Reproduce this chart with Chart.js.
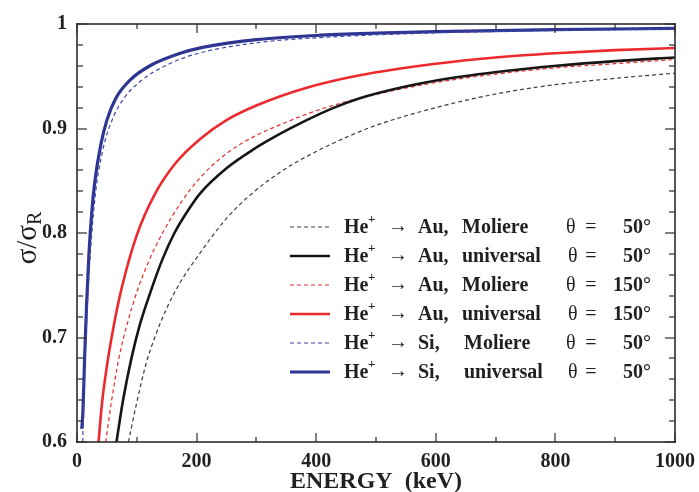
<!DOCTYPE html>
<html>
<head>
<meta charset="utf-8">
<title>Cross section ratio</title>
<script src="https://cdn.jsdelivr.net/npm/chart.js@4.4.0/dist/chart.umd.min.js"></script>
<style>
    html, body { margin: 0; padding: 0; background: #fff; }
    #wrap { width: 699px; height: 492px; }
</style>
</head>
<body>
<div id="wrap"><canvas id="ratio-chart" width="699" height="492"></canvas></div>
<script>
// energies (keV) and sigma/sigma_R for each curve
var auMol50E = [86, 100, 116, 130, 150, 174, 206, 250, 295, 350, 400, 456, 500, 600, 700, 800, 900, 1000];
var auMol50R = [0.600, 0.638, 0.676, 0.700, 0.728, 0.754, 0.781, 0.814, 0.839, 0.862, 0.878, 0.893, 0.903, 0.920, 0.933, 0.942, 0.948, 0.953];

var auUni50E = [66, 77, 91, 105, 125, 143, 163, 185, 206, 250, 295, 340, 384, 430, 473, 540, 601, 702, 802, 900, 1000];
var auUni50R = [0.600, 0.640, 0.680, 0.712, 0.747, 0.775, 0.800, 0.821, 0.838, 0.862, 0.880, 0.895, 0.908, 0.920, 0.929, 0.939, 0.946, 0.954, 0.960, 0.9645, 0.968];

var auMol150E = [48, 58, 70, 85, 101, 120, 144, 175, 206, 250, 295, 350, 400, 473, 600, 700, 800, 900, 1000];
var auMol150R = [0.600, 0.640, 0.680, 0.715, 0.745, 0.773, 0.801, 0.830, 0.853, 0.876, 0.892, 0.906, 0.917, 0.929, 0.944, 0.952, 0.958, 0.962, 0.966];

var auUni150E = [36, 42, 52, 62, 75, 100, 130, 165, 206, 250, 300, 384, 473, 600, 700, 800, 900, 1000];
var auUni150R = [0.600, 0.638, 0.680, 0.713, 0.748, 0.798, 0.837, 0.867, 0.890, 0.908, 0.922, 0.939, 0.951, 0.962, 0.968, 0.972, 0.975, 0.977];

var siMol50E = [9.5, 12, 15, 20, 30, 43, 60, 80, 110, 150, 200, 300, 400, 600, 800, 1000];
var siMol50R = [0.600, 0.650, 0.700, 0.760, 0.833, 0.879, 0.910, 0.930, 0.947, 0.9607, 0.9715, 0.982, 0.9868, 0.9915, 0.9938, 0.995];

var siUni50E = [8, 10, 13, 16, 20, 25, 30, 40, 50, 65, 90, 125, 170, 210, 300, 400, 500, 600, 800, 1000];
var siUni50R = [0.6125, 0.630, 0.685, 0.731, 0.780, 0.822, 0.850, 0.885, 0.908, 0.929, 0.947, 0.961, 0.9715, 0.9776, 0.985, 0.989, 0.9912, 0.9927, 0.9946, 0.9958];

// legend text
var legendTargets = ['Au,', 'Au,', 'Au,', 'Au,', 'Si,', 'Si,'];
var legendModels = ['Moliere', 'universal', 'Moliere', 'universal', 'Moliere', 'universal'];
var legendAngles = ['50°', '50°', '150°', '150°', '50°', '50°'];

// axis ticks
var xMajorTicks = [0, 200, 400, 600, 800, 1000];
var yMajorTicks = [0.6, 0.7, 0.8, 0.9, 1];

var SERIF = '"Liberation Serif", "DejaVu Serif", "Times New Roman", serif';
var INK = '#2e2e2e';

function toPoints(xs, ys) {
    return xs.map(function (x, i) { return { x: x, y: ys[i] }; });
}

function makeSet(label, xs, ys, color, width, dash) {
    return {
        label: label,
        data: toPoints(xs, ys),
        borderColor: color,
        backgroundColor: color,
        borderWidth: width,
        borderDash: dash,
        pointRadius: 0,
        fill: false,
        cubicInterpolationMode: 'monotone'
    };
}

var datasets = [
    makeSet('Au Moliere 50', auMol50E, auMol50R, '#3c3c3c', 1.2, [4, 3]),
    makeSet('Au universal 50', auUni50E, auUni50R, '#151515', 2.6, []),
    makeSet('Au Moliere 150', auMol150E, auMol150R, '#ec2a2e', 1.2, [4, 3]),
    makeSet('Au universal 150', auUni150E, auUni150R, '#ec2a2e', 2.6, []),
    makeSet('Si Moliere 50', siMol50E, siMol50R, '#3d47a6', 1.2, [4, 3]),
    makeSet('Si universal 50', siUni50E, siUni50R, '#2e3592', 3.2, [])
];

// frame, inward ticks on all sides, legend and axis titles
var decorations = {
    id: 'decorations',
    afterDraw: function (chart) {
        var c = chart.ctx;
        var a = chart.chartArea;
        var xs = chart.scales.x;
        var ys = chart.scales.y;
        var L = Math.round(a.left), T = Math.round(a.top);
        var R = Math.round(a.right), B = Math.round(a.bottom);

        c.save();
        c.fillStyle = INK;

        // ticks as thin filled bars
        for (var e = 0; e <= 1000; e += 100) {
            var px = Math.round(xs.getPixelForValue(e));
            var len = xMajorTicks.indexOf(e) >= 0 ? 9 : 5;
            c.fillRect(px - 0.6, B - len, 1.2, len);
            c.fillRect(px - 0.6, T, 1.2, len);
        }
        for (var i = 0; i <= 20; i++) {
            var py = Math.round(ys.getPixelForValue(0.6 + i * 0.02));
            var ylen = i % 5 === 0 ? 10 : 6;
            c.fillRect(L, py - 0.6, ylen, 1.2);
            c.fillRect(R - ylen, py - 0.6, ylen, 1.2);
        }

        // frame
        c.fillRect(L - 0.8, T - 0.8, R - L + 1.6, 1.6);
        c.fillRect(L - 0.8, B - 0.8, R - L + 1.6, 1.6);
        c.fillRect(L - 0.8, T - 0.8, 1.6, B - T + 1.6);
        c.fillRect(R - 0.8, T - 0.8, 1.6, B - T + 1.6);

        // legend rows
        c.fillStyle = '#231f20';
        c.textBaseline = 'middle';
        for (var r = 0; r < 6; r++) {
            var ds = chart.data.datasets[r];
            var y = 227 + r * 29;
            c.strokeStyle = ds.borderColor;
            c.lineWidth = ds.borderWidth;
            c.setLineDash(ds.borderDash);
            c.beginPath();
            c.moveTo(290, y);
            c.lineTo(330, y);
            c.stroke();
            c.setLineDash([]);

            c.textAlign = 'left';
            c.font = 'bold 20px ' + SERIF;
            c.fillText('He', 344, y + 1);
            c.font = 'bold 13px ' + SERIF;
            c.fillText('+', 368, y - 7);
            c.font = '20px ' + SERIF;
            c.fillText('\u2192', 388, y);
            c.font = 'bold 20px ' + SERIF;
            c.fillText(legendTargets[r], 418, y + 1);
            c.fillText(legendModels[r], legendTargets[r] === 'Si,' ? 464 : 462, y + 1);
            c.font = '20px ' + SERIF;
            c.fillText('\u03b8', legendModels[r] === 'universal' ? 568 : 566, y + 1);
            c.textAlign = 'center';
            c.fillText('=', 591, y + 1);
            c.textAlign = 'right';
            c.font = 'bold 20px ' + SERIF;
            c.fillText(legendAngles[r], 651, y + 1);
        }

        // x title
        c.textAlign = 'center';
        c.textBaseline = 'alphabetic';
        c.font = 'bold 24px ' + SERIF;
        c.fillText('ENERGY  (keV)', (a.left + a.right) / 2, 488);

        // y title sigma/sigma_R
        c.translate(28, 238);
        c.rotate(-Math.PI / 2);
        c.font = '29px ' + SERIF;
        var main = '\u03c3/\u03c3';
        var w1 = c.measureText(main).width;
        c.font = '20px ' + SERIF;
        var w2 = c.measureText('R').width;
        var x0 = -(w1 + w2) / 2;
        c.textAlign = 'left';
        c.font = '29px ' + SERIF;
        c.fillText(main, x0, 8);
        c.font = '20px ' + SERIF;
        c.fillText('R', x0 + w1, 13);
        c.restore();
    }
};

var canvas = document.getElementById('ratio-chart');
var chart = new Chart(canvas, {
    type: 'line',
    data: { datasets: datasets },
    options: {
        responsive: false,
        animation: false,
        devicePixelRatio: 1,
        layout: { padding: { left: 0, right: 24, top: 24, bottom: 0 } },
        plugins: {
            legend: { display: false },
            tooltip: { enabled: false }
        },
        scales: {
            x: {
                type: 'linear',
                min: 0,
                max: 1000,
                grid: { display: false, drawTicks: false },
                border: { display: false },
                afterFit: function (scale) {
                    scale.height = 50;
                    scale.paddingLeft = 0;
                    scale.paddingRight = 0;
                },
                ticks: {
                    stepSize: 200,
                    padding: 8,
                    color: '#231f20',
                    font: { family: SERIF, size: 20, weight: 'bold' },
                    callback: function (v) { return xMajorTicks.indexOf(v) >= 0 ? String(v) : ''; }
                }
            },
            y: {
                type: 'linear',
                min: 0.6,
                max: 1,
                grid: { display: false, drawTicks: false },
                border: { display: false },
                afterFit: function (scale) {
                    scale.width = 77;
                    scale.paddingTop = 0;
                    scale.paddingBottom = 0;
                },
                afterBuildTicks: function (scale) {
                    scale.ticks = yMajorTicks.map(function (v) { return { value: v }; });
                },
                ticks: {
                    padding: 10,
                    color: '#231f20',
                    font: { family: SERIF, size: 20, weight: 'bold' },
                    callback: function (v) { return v === 1 ? '1' : Number(v).toFixed(1); }
                }
            }
        }
    },
    plugins: [decorations]
});
</script>
</body>
</html>
